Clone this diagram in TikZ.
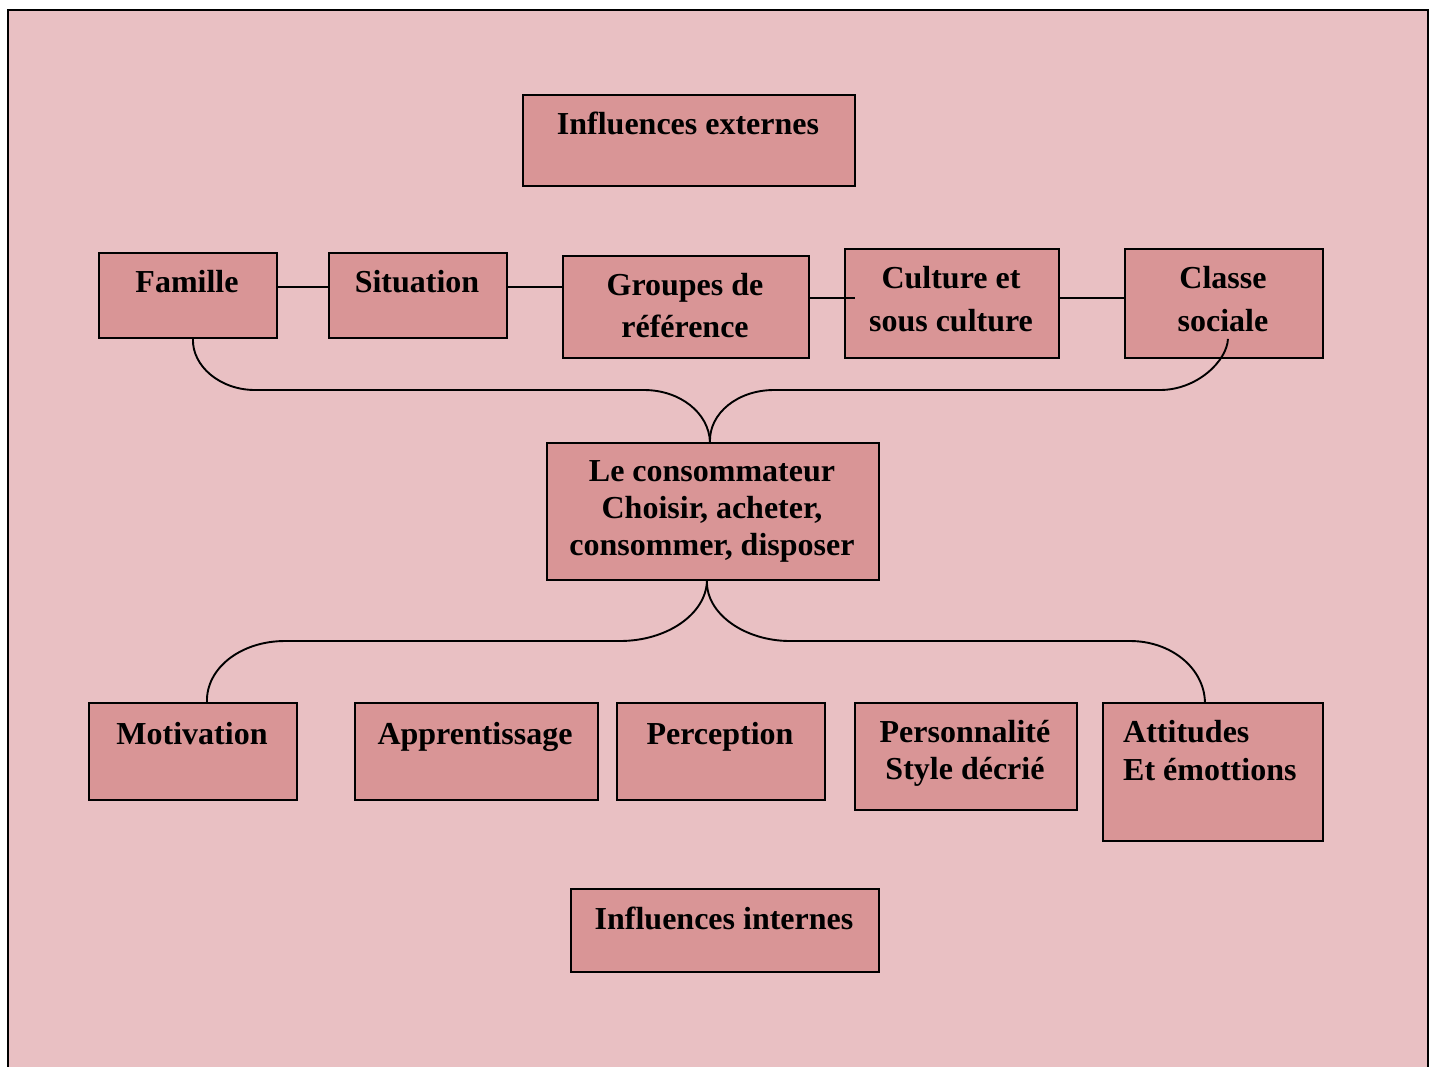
\documentclass[tikz,border=0pt]{standalone}
\usepackage{fontspec}
\setmainfont{Liberation Serif}
\usetikzlibrary{calc}
\definecolor{bgpink}{RGB}{233,192,195}
\definecolor{boxpink}{RGB}{217,149,150}
\begin{document}
\begin{tikzpicture}[x=1pt,y=-1pt,
  box/.style={draw=black, line width=1.9pt, fill=boxpink, inner sep=0pt, anchor=north west},
  txt/.style={font=\fontsize{32}{37}\selectfont\bfseries, inner sep=0pt, anchor=base, align=center},
  link/.style={line width=1.9pt}]
\useasboundingbox (0,0) rectangle (1434,1066);
\fill[white] (0,0) rectangle (1434,1066);
\fill[bgpink] (8,10) rectangle (1428,1080);
\draw[line width=2.2pt] (8,1080) -- (8,10) -- (1428,10) -- (1428,1080);
% boxes
\node[box, minimum width=332pt, minimum height=91pt] (ext) at (522,94) {};
\node[box, minimum width=178pt, minimum height=85pt] (fam) at (98,252) {};
\node[box, minimum width=178pt, minimum height=85pt] (sit) at (328,252) {};
\node[box, minimum width=246pt, minimum height=102pt] (grp) at (562,255) {};
\node[box, minimum width=214pt, minimum height=109pt] (cul) at (844,248) {};
\node[box, minimum width=198pt, minimum height=109pt] (cls) at (1124,248) {};
\node[box, minimum width=332pt, minimum height=137pt] (cons) at (546,442) {};
\node[box, minimum width=208pt, minimum height=97pt] (mot) at (88,702) {};
\node[box, minimum width=243pt, minimum height=97pt] (app) at (354,702) {};
\node[box, minimum width=208pt, minimum height=97pt] (per) at (616,702) {};
\node[box, minimum width=222pt, minimum height=107pt] (pers) at (854,702) {};
\node[box, minimum width=220pt, minimum height=138pt] (att) at (1102,702) {};
\node[box, minimum width=308pt, minimum height=83pt] (int) at (570,888) {};
% texts (base anchor = baseline of last line)
\node[txt] (extT) at (688,134) {Influences externes};
\node[txt] (famT) at (187,292) {Famille};
\node[txt] (sitT) at (417,292) {Situation};
\node[txt] (grpT) at (685,337) {Groupes de\\[5pt]référence};
\node[txt] (culT) at (951,331) {Culture et\\[6pt]sous culture};
\node[txt] (clsT) at (1223,331) {Classe\\[6pt]sociale};
\node[txt] (consT) at (712,555) {Le consommateur\\Choisir, acheter,\\consommer, disposer};
\node[txt] (motT) at (192,744) {Motivation};
\node[txt] (appT) at (475,744) {Apprentissage};
\node[txt] (perT) at (720,744) {Perception};
\node[txt] (persT) at (965,779) {Personnalité\\Style décrié};
\node[txt, anchor=base west, align=left] (attT) at (1123,780) {Attitudes\\[1pt]Et émottions};
\node[txt] (intT) at (724,929) {Influences internes};
% straight links
\draw[link] ([yshift=8.5pt]fam.east) -- ([yshift=8.5pt]sit.west);
\draw[link] ([yshift=8.5pt]sit.east) -- ([yshift=8.5pt]sit.east -| grp.west);
\draw[link] ([yshift=5.5pt]cul.west -| grp.east) -- ([xshift=11pt,yshift=5.5pt]cul.west);
\draw[link] ([yshift=5.5pt]cul.east) -- ([yshift=5.5pt]cls.west);
% braces
\coordinate (cT) at ([xshift=-3pt]cons.north);
\coordinate (cB) at ([xshift=-6pt]cons.south);
\draw[link] ([xshift=5pt]fam.south) .. controls (192,366) and (220,390) .. (255,390) -- (644,390) .. controls (680,390) and (709,413) .. (cT);
\draw[link] (cT) .. controls (709,413) and (738,390) .. (774,390) -- (1160,390) .. controls (1197,390) and (1227,361) .. ([xshift=4pt,yshift=20pt]cls.south);
\draw[link] (cB) .. controls (706,614) and (667,641) .. (620,641) -- (285,641) .. controls (241,641) and (206,668) .. ([xshift=14pt]mot.north);
\draw[link] (cB) .. controls (706,614) and (745,641) .. (790,641) -- (1130,641) .. controls (1171,641) and (1204,668) .. ([xshift=-8pt]att.north);
\end{tikzpicture}
\end{document}
